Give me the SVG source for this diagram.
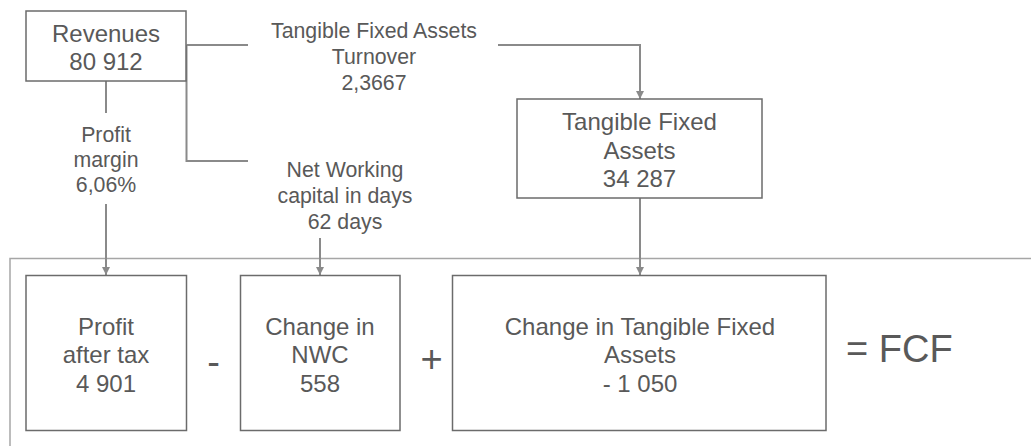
<svg xmlns="http://www.w3.org/2000/svg" width="1031" height="446" viewBox="0 0 1031 446">
  <style>
    .box { fill: #ffffff; stroke: #6b6b6b; stroke-width: 1.5; }
    .t { font-family: "Liberation Sans", Arial, sans-serif; fill: #595959; text-anchor: middle; }
    .bt { font-size: 24px; }
    .lt { font-size: 21.3px; }
    .op { font-size: 38px; }
    .conn { fill: none; stroke: #8a8a8a; stroke-width: 2; }
    .frame { fill: none; stroke: #a6a6a6; stroke-width: 1.5; }
  </style>
  <defs>
    <marker id="arr" markerUnits="userSpaceOnUse" markerWidth="8" markerHeight="8" refX="8" refY="4" orient="auto">
      <path d="M0,0 L8,4 L0,8 z" fill="#8a8a8a"/>
    </marker>
  </defs>
  <rect width="1031" height="446" fill="#ffffff"/>

  <g id="frame">
    <path class="frame" d="M10,446 V258.5 H1031"/>
  </g>

  <g id="connectors">
    <path class="conn" d="M106,81 V113"/>
    <path class="conn" d="M106,204 V275" marker-end="url(#arr)"/>
    <path class="conn" d="M186.5,45 H248"/>
    <path class="conn" d="M498,45 H640 V99" marker-end="url(#arr)"/>
    <path class="conn" d="M186.5,45 V161 H248"/>
    <path class="conn" d="M320,238 V275" marker-end="url(#arr)"/>
    <path class="conn" d="M640,198 V275" marker-end="url(#arr)"/>
  </g>

  <g id="label-tfa-turnover">
    <text class="t lt" x="374" y="37.5">Tangible Fixed Assets</text>
    <text class="t lt" x="374" y="63.5">Turnover</text>
    <text class="t lt" x="374" y="89.5">2,3667</text>
  </g>
  <g id="label-profit-margin">
    <text class="t lt" x="106" y="141.5">Profit</text>
    <text class="t lt" x="106" y="167">margin</text>
    <text class="t lt" x="106" y="192">6,06%</text>
  </g>
  <g id="label-nwc-days">
    <text class="t lt" x="345" y="177">Net Working</text>
    <text class="t lt" x="345" y="202.5">capital in days</text>
    <text class="t lt" x="345" y="228.5">62 days</text>
  </g>

  <g id="node-revenues">
    <rect class="box" x="26" y="11" width="160" height="70"/>
    <text class="t bt" x="106" y="41.5">Revenues</text>
    <text class="t bt" x="106" y="70">80 912</text>
  </g>

  <g id="node-tfa">
    <rect class="box" x="517" y="99" width="245" height="99"/>
    <text class="t bt" x="639.5" y="130">Tangible Fixed</text>
    <text class="t bt" x="639.5" y="158.5">Assets</text>
    <text class="t bt" x="639.5" y="187">34 287</text>
  </g>

  <g id="node-profit">
    <rect class="box" x="26" y="275.5" width="160.5" height="155"/>
    <text class="t bt" x="106" y="334.5">Profit</text>
    <text class="t bt" x="106" y="363">after tax</text>
    <text class="t bt" x="106" y="391.5">4 901</text>
  </g>

  <g id="op-minus">
    <text class="t op" x="213.5" y="375">-</text>
  </g>

  <g id="node-nwc">
    <rect class="box" x="240.5" y="275.5" width="159.5" height="155"/>
    <text class="t bt" x="320" y="334.5">Change in</text>
    <text class="t bt" x="320" y="363">NWC</text>
    <text class="t bt" x="320" y="391.5">558</text>
  </g>

  <g id="op-plus">
    <text class="t op" x="431.5" y="372">+</text>
  </g>

  <g id="node-ctfa">
    <rect class="box" x="452.5" y="275.5" width="373.5" height="155"/>
    <text class="t bt" x="640" y="334.5">Change in Tangible Fixed</text>
    <text class="t bt" x="640" y="363">Assets</text>
    <text class="t bt" x="640" y="391.5">- 1 050</text>
  </g>

  <g id="result-fcf">
    <text class="t op" x="846" y="362" style="text-anchor:start">= FCF</text>
  </g>
</svg>
